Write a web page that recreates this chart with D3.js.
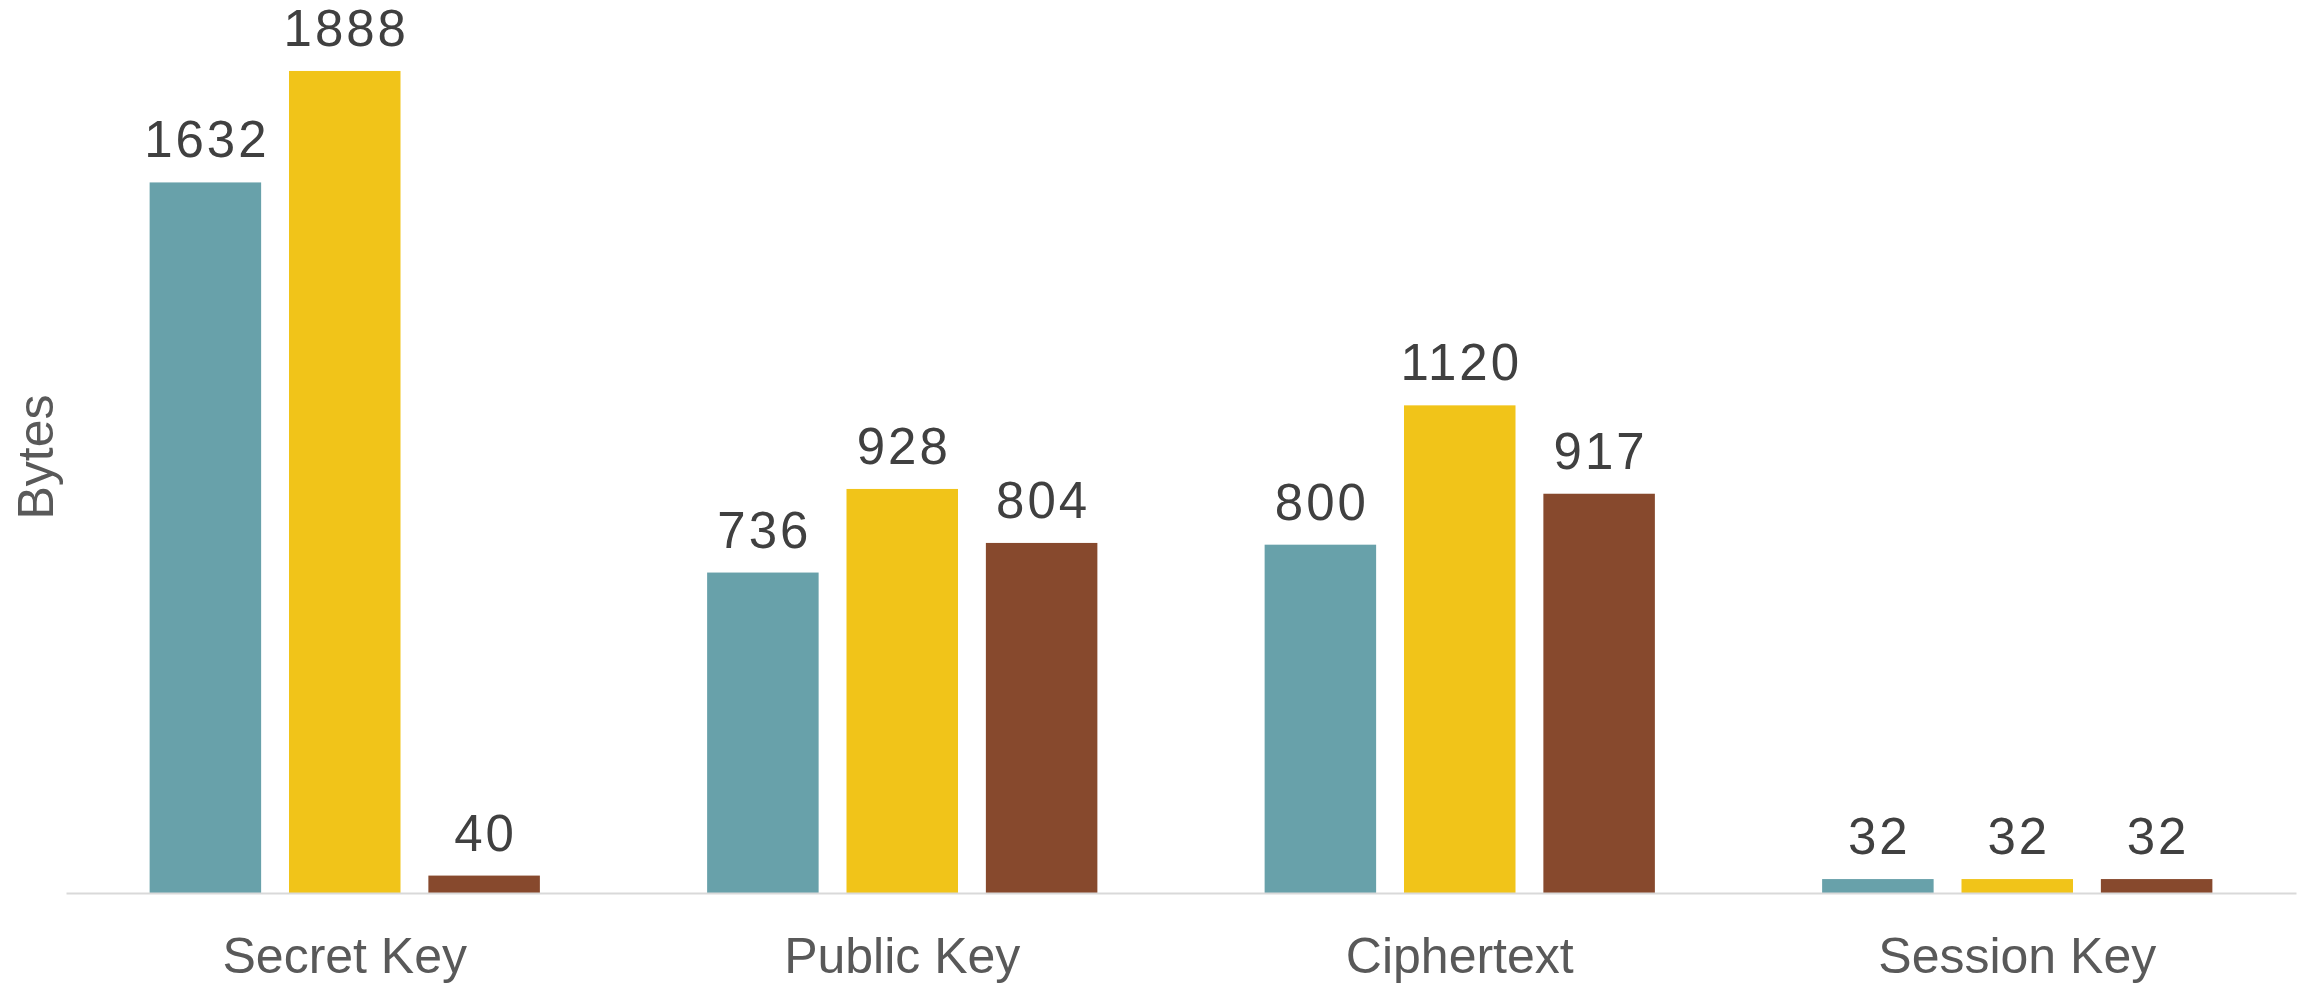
<!DOCTYPE html>
<html>
<head>
<meta charset="utf-8">
<script src="https://cdn.jsdelivr.net/npm/d3@7"></script>
<style>
  html, body { margin: 0; padding: 0; background: #ffffff; }
  svg { display: block; }
</style>
</head>
<body>
<svg id="chart" width="2310" height="987"></svg>
<script>
// Sizes in bytes per component, one array per scheme
const categories = ["Secret Key", "Public Key", "Ciphertext", "Session Key"];
const seriesNames = ["schemeA", "schemeB", "schemeC"];
const schemeA = [1632, 736, 800, 32];
const schemeB = [1888, 928, 1120, 32];
const schemeC = [40, 804, 917, 32];
const seriesColors = ["#68A1AA", "#F1C419", "#87492D"];
const yLabel = "Bytes";

const seriesValues = [schemeA, schemeB, schemeC];

const svg = d3.select("#chart");
const margin = { left: 66, right: 14, top: 22, bottom: 94 };
const W = 2310, H = 987;
const labelSpacing = 3;

const x = d3.scaleBand()
  .domain(categories)
  .range([margin.left, W - margin.right])
  .paddingInner(0)
  .paddingOuter(0);

const xSub = d3.scaleBand()
  .domain(seriesNames)
  .range([0, x.bandwidth()])
  .paddingInner(0.2)
  .paddingOuter(0.6);

const y = d3.scaleLinear()
  .domain([0, 2000])
  .range([H - margin.bottom, 22.2]);

const rows = [];
categories.forEach((c, ci) => {
  seriesNames.forEach((s, si) => {
    rows.push({ cat: c, series: s, value: seriesValues[si][ci], color: seriesColors[si] });
  });
});

// bars
svg.append("g")
  .selectAll("rect")
  .data(rows)
  .join("rect")
  .attr("x", d => x(d.cat) + xSub(d.series))
  .attr("width", xSub.bandwidth())
  .attr("y", d => y(d.value))
  .attr("height", d => y(0) - y(d.value))
  .attr("fill", d => d.color);

// value labels above bars (shifted by half the trailing letter-spacing to stay centred)
svg.append("g")
  .selectAll("text")
  .data(rows)
  .join("text")
  .attr("x", d => x(d.cat) + xSub(d.series) + xSub.bandwidth() / 2 + labelSpacing / 2)
  .attr("y", d => y(d.value) - 25)
  .attr("text-anchor", "middle")
  .attr("font-family", "'Liberation Sans', Arial, sans-serif")
  .attr("font-size", 51)
  .attr("letter-spacing", labelSpacing + "px")
  .attr("fill", "#404040")
  .text(d => d.value);

// baseline axis
const xAxis = d3.axisBottom(x).tickSize(0).tickPadding(0);
const axisG = svg.append("g")
  .attr("transform", `translate(0,${y(0)})`)
  .call(xAxis);
axisG.select(".domain")
  .attr("stroke", "#d9d9d9")
  .attr("stroke-width", 2);
axisG.selectAll(".tick text")
  .attr("y", 80)
  .attr("dy", 0)
  .attr("font-family", "'Liberation Sans', Arial, sans-serif")
  .attr("font-size", 50)
  .attr("fill", "#595959");

// y axis title
svg.append("text")
  .attr("transform", `translate(53,457) rotate(-90)`)
  .attr("text-anchor", "middle")
  .attr("font-family", "'Liberation Sans', Arial, sans-serif")
  .attr("font-size", 50)
  .attr("fill", "#595959")
  .text(yLabel);
</script>
</body>
</html>
